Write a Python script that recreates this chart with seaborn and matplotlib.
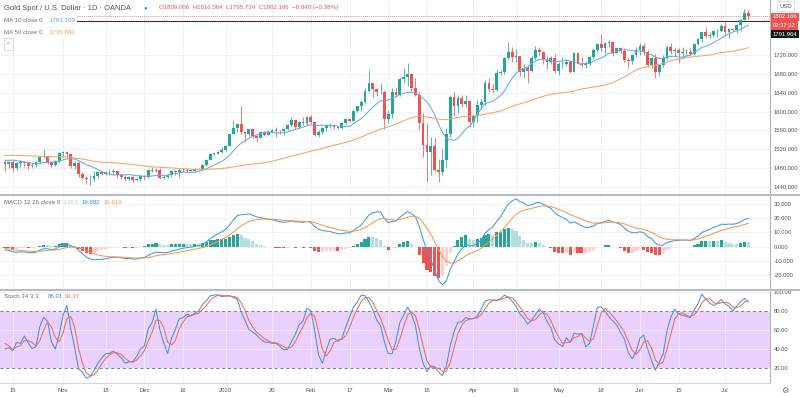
import numpy as np
import pandas as pd
import matplotlib
matplotlib.use("Agg")
import matplotlib.pyplot as plt
import seaborn as sns

# Warm-up closes (Aug 1 - Oct 10 2019), only feed the MA / MACD / Stoch lines
warmup_close = [1445, 1440, 1464, 1474, 1500, 1500, 1497, 1511, 1501, 1516, 1524,
                1513, 1496, 1507, 1502, 1498, 1527, 1527, 1542, 1540, 1527, 1520,
                1529, 1547, 1550, 1519, 1507, 1499, 1485, 1497, 1500, 1488, 1498,
                1502, 1494, 1504, 1517, 1522, 1532, 1504, 1505, 1497, 1472,
                1478, 1500, 1506, 1504, 1493, 1505, 1506, 1494]

# Visible daily bars, Oct 11 2019 - Jul 9 2020
close = [
    1488, 1493, 1481, 1490, 1492, 1490, 1484, 1487, 1492, 1504, 1505, 1493, 1487, 1495, 1513,
    1514, 1509, 1484, 1491, 1467, 1459, 1456, 1456, 1463, 1471, 1468, 1472, 1472, 1473, 1465, 1462, 1456, 1461, 1454, 1458, 1464,
    1461, 1477, 1475, 1476, 1460, 1462, 1465, 1475, 1471, 1476, 1476, 1475, 1475, 1479, 1478, 1486, 1498, 1511, 1511, 1515, 1518,
    1528, 1552, 1566, 1574, 1556, 1552, 1562, 1548, 1545, 1556, 1551, 1557, 1560, 1558, 1558, 1563, 1571, 1582, 1567, 1577, 1575, 1589,
    1577, 1551, 1556, 1566, 1570, 1572, 1568, 1566, 1576, 1584, 1580, 1602, 1611, 1620, 1644, 1660, 1648, 1641, 1641, 1585,
    1595, 1641, 1636, 1669, 1673, 1679, 1649, 1635, 1576, 1530, 1514, 1526, 1477, 1471, 1498, 1553, 1630, 1612, 1628, 1617, 1622, 1578,
    1590, 1614, 1620, 1661, 1648, 1646, 1681, 1683, 1714, 1727, 1716, 1717, 1684, 1693, 1686, 1714, 1730, 1727, 1712, 1705, 1713, 1686,
    1700, 1702, 1705, 1685, 1725, 1702, 1698, 1702, 1715, 1730, 1743, 1734, 1745, 1747, 1725, 1735, 1728, 1710, 1708, 1719, 1730,
    1740, 1727, 1699, 1714, 1684, 1698, 1714, 1737, 1728, 1730, 1725, 1726, 1727, 1722, 1744, 1753, 1768, 1761, 1762, 1771, 1772, 1781,
    1769, 1775, 1774, 1783, 1795, 1809.006, 1802.166]
high = [
    1499, 1496, 1498, 1494, 1497, 1495, 1494, 1490, 1495, 1506, 1518, 1506, 1496, 1497, 1514,
    1517, 1516, 1510, 1495, 1495, 1471, 1463, 1465, 1474, 1475, 1473, 1475, 1479, 1478, 1474, 1467, 1466, 1464, 1463, 1459, 1466,
    1465, 1479, 1483, 1481, 1481, 1465, 1468, 1477, 1477, 1480, 1480, 1480, 1479, 1481, 1481, 1488, 1499, 1513, 1513, 1516, 1524,
    1529, 1553, 1582, 1576, 1611, 1557, 1563, 1563, 1550, 1557, 1558, 1560, 1563, 1568, 1561, 1566, 1573, 1589, 1583, 1579, 1588, 1590,
    1592, 1578, 1561, 1568, 1574, 1575, 1573, 1570, 1578, 1585, 1584, 1604, 1612, 1624, 1649, 1689, 1660, 1651, 1660, 1646,
    1604, 1650, 1652, 1674, 1692, 1703, 1682, 1671, 1644, 1596, 1575, 1547, 1547, 1499, 1520, 1565, 1635, 1642, 1636, 1635, 1636, 1625,
    1594, 1625, 1626, 1667, 1671, 1658, 1690, 1688, 1715, 1747, 1738, 1732, 1718, 1700, 1698, 1718, 1739, 1737, 1729, 1718, 1718, 1722,
    1705, 1715, 1711, 1710, 1726, 1722, 1715, 1707, 1717, 1735, 1745, 1765, 1747, 1751, 1749, 1737, 1737, 1735, 1716, 1722, 1738,
    1745, 1745, 1730, 1716, 1723, 1702, 1721, 1740, 1745, 1736, 1735, 1736, 1732, 1734, 1745, 1757, 1769, 1779, 1768, 1772, 1775, 1785,
    1789, 1777, 1776, 1786, 1797, 1818, 1816.064]
low = [
    1474, 1481, 1474, 1477, 1482, 1483, 1478, 1480, 1483, 1491, 1501, 1489, 1483, 1484, 1490,
    1503, 1502, 1481, 1478, 1461, 1456, 1446, 1445, 1452, 1460, 1465, 1465, 1466, 1466, 1460, 1458, 1452, 1454, 1451, 1452, 1453,
    1455, 1460, 1471, 1471, 1458, 1457, 1459, 1461, 1466, 1462, 1472, 1472, 1473, 1472, 1476, 1477, 1484, 1498, 1505, 1509, 1513,
    1517, 1526, 1552, 1556, 1553, 1536, 1549, 1545, 1536, 1543, 1548, 1550, 1556, 1546, 1553, 1550, 1560, 1570, 1564, 1565, 1572, 1571,
    1573, 1548, 1547, 1553, 1559, 1566, 1563, 1562, 1564, 1573, 1578, 1580, 1600, 1602, 1617, 1642, 1630, 1634, 1637, 1563,
    1575, 1586, 1632, 1634, 1661, 1654, 1644, 1633, 1560, 1504, 1451, 1465, 1473, 1451, 1465, 1483, 1547, 1590, 1598, 1610, 1610, 1568,
    1567, 1577, 1605, 1614, 1642, 1640, 1644, 1677, 1680, 1710, 1706, 1706, 1675, 1671, 1660, 1684, 1710, 1720, 1700, 1690, 1700, 1681,
    1677, 1692, 1697, 1681, 1685, 1700, 1694, 1692, 1699, 1711, 1726, 1728, 1722, 1738, 1718, 1724, 1725, 1706, 1693, 1702, 1716,
    1720, 1721, 1694, 1693, 1671, 1677, 1694, 1710, 1723, 1716, 1704, 1713, 1718, 1718, 1720, 1741, 1748, 1757, 1756, 1759, 1759, 1768,
    1762, 1757, 1771, 1766, 1771, 1794, 1795.734]

tick_dates = ["2019-10-15", "2019-11-01", "2019-11-18", "2019-12-02", "2019-12-16",
              "2020-01-02", "2020-01-20", "2020-02-03", "2020-02-17", "2020-03-02",
              "2020-03-16", "2020-04-01", "2020-04-16", "2020-05-01", "2020-05-18",
              "2020-06-01", "2020-06-15", "2020-07-01"]
tick_labels = ["15", "Nov", "18", "Dec", "16", "2020", "20", "Feb", "17", "Mar",
               "16", "Apr", "16", "May", "18", "Jun", "15", "Jul"]
price_ticks = [1440, 1480, 1520, 1560, 1600, 1640, 1680, 1720]
macd_ticks = [-20, -10, 0, 10, 20, 30]
stoch_ticks = [20, 40, 60, 80, 100]
last_price = 1802.166
line_price = 1791.964

UP, DOWN = "#26a69a", "#ef5350"
GRID = "#eef0f4"
TXT = "#50535e"

# --- dates / indicators ---
days = pd.bdate_range("2019-08-01", "2020-07-09")
days = days[~days.isin(pd.to_datetime(["2019-12-25", "2020-01-01"]))]
nw = len(warmup_close)
vis_days = days[nw:]

c_all = pd.Series(warmup_close + close, dtype=float)
h_all = pd.Series(warmup_close + high, dtype=float)
l_all = pd.Series(warmup_close + low, dtype=float)

ma10 = c_all.rolling(10).mean()
ma50 = c_all.rolling(50).mean()
macd = c_all.ewm(span=12, adjust=False).mean() - c_all.ewm(span=26, adjust=False).mean()
signal = macd.ewm(span=9, adjust=False).mean()
hist = macd - signal
ll = l_all.rolling(14, min_periods=1).min()
hh = h_all.rolling(14, min_periods=1).max()
k_raw = 100 * (c_all - ll) / (hh - ll).replace(0, np.nan)
stoch_k = k_raw.rolling(3).mean()
stoch_d = stoch_k.rolling(3).mean()

n = len(close)
x = np.arange(n)
c = np.array(close)
o = c_all.shift(1).to_numpy()[nw:]
h = np.maximum(np.array(high), np.maximum(o, c))
l = np.minimum(np.array(low), np.minimum(o, c))
tick_idx = [int(vis_days.get_indexer([pd.Timestamp(d)])[0]) for d in tick_dates]

sns.set_theme(style="white")
plt.rcParams["font.family"] = ["Liberation Sans", "DejaVu Sans"]

W, H = 800, 397
fig = plt.figure(figsize=(8, 3.97), dpi=100)
fig.patch.set_facecolor("white")


def box(top, bottom):
    return [0, 1 - bottom / H, 770 / W, (bottom - top) / H]


ax_p = fig.add_axes(box(0, 193))
ax_m = fig.add_axes(box(196, 288))
ax_s = fig.add_axes(box(291, 383))

xlim = (-1.28, 197.6)
for ax in (ax_p, ax_m, ax_s):
    ax.set_xlim(*xlim)
    ax.set_xticks(tick_idx)
    ax.grid(True, color=GRID, lw=0.6)
    ax.set_axisbelow(True)
    for s in ("top", "left", "bottom"):
        ax.spines[s].set_visible(False)
    ax.spines["right"].set_color("#b2b5be")
    ax.spines["right"].set_linewidth(0.8)
    ax.yaxis.tick_right()
    ax.tick_params(axis="y", length=0, pad=2.9, labelsize=4.2, labelcolor=TXT)
    ax.tick_params(axis="x", length=0, pad=3.5, labelsize=4.2, labelcolor=TXT)
    ax.set_xlabel("")
    ax.set_ylabel("")

# --- price panel ---
cols = np.where(c >= o, UP, DOWN)
ax_p.vlines(x, l, h, colors=cols, lw=0.55, zorder=2)
body = np.maximum(np.abs(c - o), 0.6)
ax_p.bar(x, body, bottom=np.minimum(o, c), width=0.72, color=cols, linewidth=0, zorder=3)
sns.lineplot(x=x, y=ma10.to_numpy()[nw:], ax=ax_p, color="#64a8f0", lw=0.75, zorder=4)
sns.lineplot(x=x, y=ma50.to_numpy()[nw:], ax=ax_p, color="#f5a362", lw=0.75, zorder=4)
ax_p.axhline(last_price, color=DOWN, lw=0.6, ls=(0, (1, 1.5)), zorder=1)
ax_p.axhline(line_price, color="#333333", lw=0.8, zorder=1)
ax_p.set_ylim(1427.3, 1836.7)
ax_p.set_yticks(price_ticks)
ax_p.set_yticklabels([f"{v:.3f}" for v in price_ticks])
ax_p.set_xticklabels([])

# --- MACD panel ---
hv = hist.to_numpy()[nw:]
hp = hist.to_numpy()[nw - 1:-1]
hcol = np.where(hv >= 0, np.where(hp < hv, "#26a69a", "#b2dfdb"),
                np.where(hp < hv, "#ffcdd2", "#ef5350"))
ax_m.bar(x, hv, width=0.8, color=hcol, linewidth=0, zorder=2)
sns.lineplot(x=x, y=macd.to_numpy()[nw:], ax=ax_m, color="#3d9be9", lw=0.75, zorder=3)
sns.lineplot(x=x, y=signal.to_numpy()[nw:], ax=ax_m, color="#f59a4a", lw=0.75, zorder=3)
ax_m.set_ylim(-29.1, 35.7)
ax_m.set_yticks(macd_ticks)
ax_m.set_yticklabels([f"{v:.3f}" for v in macd_ticks])
ax_m.set_xticklabels([])

# --- Stoch panel ---
ax_s.axhspan(20, 80, color="#9915ff", alpha=0.2, lw=0, zorder=0)
for lvl in (20, 80):
    ax_s.axhline(lvl, color="#787b86", lw=0.7, ls=(0, (3, 3)), zorder=1)
sns.lineplot(x=x, y=stoch_k.to_numpy()[nw:], ax=ax_s, color="#4a90e2", lw=0.75, zorder=3)
sns.lineplot(x=x, y=stoch_d.to_numpy()[nw:], ax=ax_s, color="#ef6f4c", lw=0.75, zorder=3)
ax_s.set_ylim(4.6, 101)
ax_s.set_yticks(stoch_ticks)
ax_s.set_yticklabels([f"{v:.2f}" for v in stoch_ticks])
ax_s.set_xticklabels(tick_labels)
ax_s.spines["bottom"].set_visible(True)
ax_s.spines["bottom"].set_color("#d1d4dc")
ax_s.spines["bottom"].set_linewidth(0.8)

# panel separators
for yy in (194.5, 289.5):
    fig.add_artist(plt.Line2D([0, 1], [1 - yy / H] * 2, color="#b8bbc4", lw=1.5))


def ftext(px, py, s, **kw):
    kw.setdefault("fontsize", 4.4)
    kw.setdefault("va", "center")
    return fig.text(px / W, 1 - py / H, s, **kw)


# legend strip behind the MA rows hides the horizontal price lines
fig.add_artist(plt.Rectangle((0, 1 - 38 / H), 77 / W, 24 / H, fc="white", ec="none",
                             transform=fig.transFigure, zorder=5))

# headers
ftext(4, 8, "Gold Spot / U.S. Dollar · 1D · OANDA", color="#4c525e", fontsize=5.4)
ftext(143, 8, "●", color=UP, fontsize=4.5)
ftext(159, 8, "O1809.006  H1816.064  L1795.734  C1802.166  \u22126.840 (\u22120.38%)",
      color=DOWN, fontsize=4.4)
ftext(4, 20, "MA 10 close 0", color="#6a6d78", zorder=6)
ftext(50, 20, "1783.709", color="#5b9cf6", zorder=6)
ftext(4, 32, "MA 50 close 0", color="#6a6d78", zorder=6)
ftext(50, 32, "1735.880", color="#f5a05a", zorder=6)
ftext(7, 44, "^", color="#6a6d78", fontsize=4.5,
      bbox=dict(boxstyle="square,pad=0.5", fc="white", ec="#d1d4dc", lw=0.6))
ftext(4, 203, "MACD 12 26 close 9", color="#6a6d78")
ftext(63, 203, "3.263", color="#9fd8cf")
ftext(82, 203, "19.882", color="#2196f3")
ftext(104, 203, "16.619", color="#f59a4a")
ftext(4, 297, "Stoch 14 3 3", color="#6a6d78")
ftext(48, 297, "88.91", color="#4a90e2")
ftext(65, 297, "91.17", color="#ef6f4c")

# right-side price labels
ftext(779, 6, "USD", color=TXT, fontsize=4.2,
      bbox=dict(boxstyle="square,pad=0.35", fc="white", ec="#d1d4dc", lw=0.6))
ftext(773, 17, "1802.166", color="white", fontsize=4.2,
      bbox=dict(boxstyle="square,pad=0.3", fc=DOWN, ec="none"))
ftext(773, 25.5, "02:37:32", color="white", fontsize=4.2,
      bbox=dict(boxstyle="square,pad=0.3", fc=DOWN, ec="none"))
ftext(773, 34, "1791.964", color="white", fontsize=4.2,
      bbox=dict(boxstyle="square,pad=0.3", fc="#131722", ec="none"))
ftext(785, 390, "\u2699", color="#6a6d78", fontsize=6, ha="center",
      family=["DejaVu Sans"])

fig.savefig("out.png", dpi=100, facecolor="white")
